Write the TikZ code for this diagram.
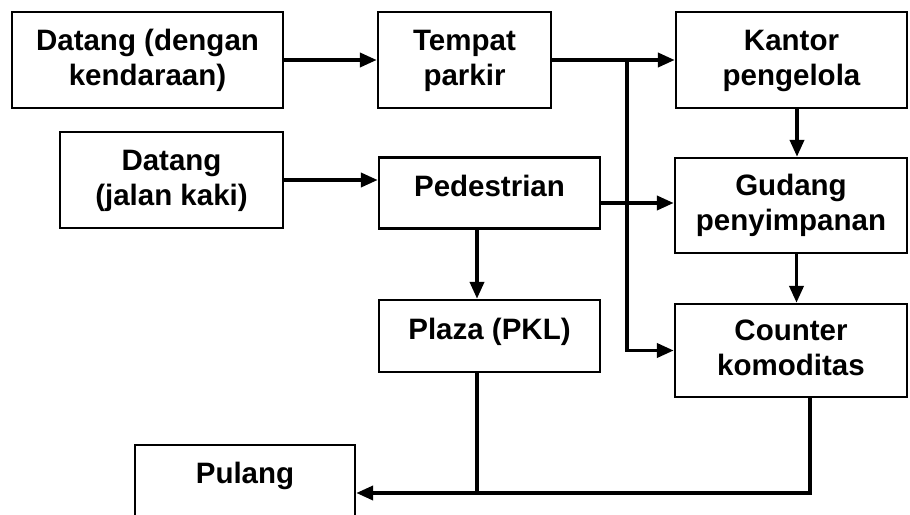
\documentclass[tikz,border=0pt]{standalone}
\usepackage{fontspec}
\setmainfont{Liberation Sans}
\usetikzlibrary{arrows.meta}
\begin{document}
\begin{tikzpicture}[x=1pt,y=1pt,
  box/.style={draw, line width=2.4pt, inner sep=4pt, align=center,
    font=\bfseries\fontsize{29.5}{35}\selectfont},
  twoline/.style={box, text height=58pt, text depth=8pt},
  oneline/.style={box, text height=22pt, text depth=16pt},
  link/.style={line width=3.8pt},
  arr/.style={link, -{Triangle[length=17pt,width=14pt]}}]
\useasboundingbox (0,0) rectangle (910,-514);
\clip (0,0) rectangle (910,-514);

% boxes
\node[twoline, minimum width=271pt, minimum height=96pt] (A) at (147.5,-60) {Datang (dengan\\kendaraan)};
\node[twoline, minimum width=173pt, minimum height=96pt] (B) at (464.5,-60) {Tempat\\parkir};
\node[twoline, minimum width=231pt, minimum height=96pt] (C) at (791.5,-60) {Kantor\\pengelola};
\node[twoline, minimum width=223pt, minimum height=96pt] (D) at (171.5,-180) {Datang\\(jalan kaki)};
\node[oneline, minimum width=221pt, minimum height=71pt] (E) at (489.5,-193) {Pedestrian};
\node[twoline, minimum width=232pt, minimum height=95pt] (F) at (791,-205.5) {Gudang\\penyimpanan};
\node[oneline, minimum width=221pt, minimum height=72pt] (G) at (489.5,-336) {Plaza (PKL)};
\node[twoline, minimum width=232pt, minimum height=93pt] (H) at (791,-350.5) {Counter\\komoditas};
\node[box, text height=22pt, text depth=41pt, minimum width=220pt, minimum height=96pt] (I) at (245,-493) {Pulang};

% helper points on the box edges
\coordinate (j1) at (627,-60);
\coordinate (e1) at ([yshift=-10pt]E.east);
\coordinate (e2) at ([xshift=-12.5pt]E.south);
\coordinate (c1) at ([xshift=5.5pt]C.south);
\coordinate (f1) at ([xshift=5.5pt]F.south);
\coordinate (g1) at ([xshift=-12.5pt]G.south);
\coordinate (h1) at ([xshift=19pt]H.south);

% connectors
\draw[arr] (A.east) -- (B.west);
\draw[arr] (B.east) -- (C.west);
\draw[arr] (j1) |- (H.west);
\draw[arr] (D.east) -- (D.east -| E.west);
\draw[arr] (e1) -- (e1 -| F.west);
\draw[arr] (c1) -- (c1 |- F.north);
\draw[arr] (f1) -- (f1 |- H.north);
\draw[arr] (e2) -- (e2 |- G.north);
\draw[link] (g1) -- (g1 |- I.east);
\draw[arr] (h1) |- (I.east);
\end{tikzpicture}
\end{document}
